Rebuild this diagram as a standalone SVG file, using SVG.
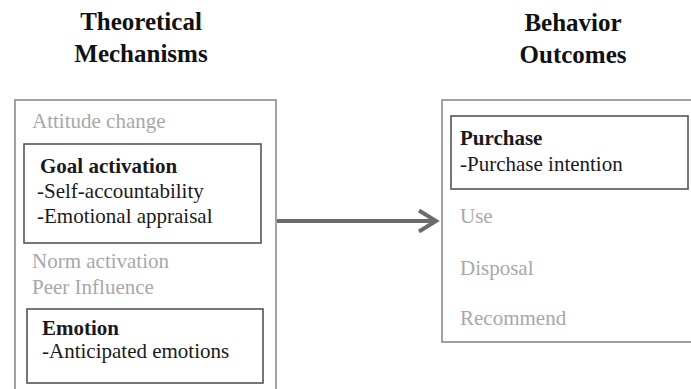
<svg xmlns="http://www.w3.org/2000/svg" width="691" height="389" viewBox="0 0 691 389">
<style>
.h{font-weight:bold;font-size:25px;fill:#111;text-anchor:middle}
.t{font-size:21px;fill:#1a1a1a}
.b{font-weight:bold}
.g{fill:#a8a8a8}
.outer{fill:none;stroke:#8a8a8a;stroke-width:1.6}
.inner{fill:none;stroke:#555;stroke-width:1.6}
.conn{fill:none;stroke:#6b6b6b;stroke-width:4}
</style>
<rect width="691" height="389" fill="#fff"/>
<g font-family="Liberation Serif, Tinos, Times New Roman, DejaVu Serif, serif">
<g id="heading-left">
<text class="h" x="141" y="30">Theoretical</text>
<text class="h" x="141" y="62">Mechanisms</text>
</g>
<g id="heading-right">
<text class="h" x="573" y="31">Behavior</text>
<text class="h" x="573" y="63">Outcomes</text>
</g>
<g id="mechanisms">
<rect class="outer" x="15" y="100" width="261" height="300"/>
<text class="t g" x="32" y="128">Attitude change</text>
<text class="t g" x="32" y="268">Norm activation</text>
<text class="t g" x="32" y="294">Peer Influence</text>
</g>
<g id="goal-activation">
<rect class="inner" x="24" y="144" width="237" height="99"/>
<text class="t b" x="40" y="173">Goal activation</text>
<text class="t" x="37" y="198">-Self-accountability</text>
<text class="t" x="37" y="223">-Emotional appraisal</text>
</g>
<g id="emotion">
<rect class="inner" x="27" y="309" width="236" height="74"/>
<text class="t b" x="42" y="335">Emotion</text>
<text class="t" x="42" y="358">-Anticipated emotions</text>
</g>
<g id="outcomes">
<rect class="outer" x="442" y="100" width="260" height="242"/>
<text class="t g" x="460" y="223">Use</text>
<text class="t g" x="460" y="275">Disposal</text>
<text class="t g" x="460" y="325">Recommend</text>
</g>
<g id="purchase">
<rect class="inner" x="451" y="116" width="237" height="73"/>
<text class="t b" x="460" y="145">Purchase</text>
<text class="t" x="460" y="171">-Purchase intention</text>
</g>
</g>
<g id="connectors">
<line class="conn" x1="277" y1="221" x2="435" y2="221"/>
<polyline class="conn" points="419,210.5 436,221 419,231.5" stroke-linejoin="miter"/>
</g>
</svg>
